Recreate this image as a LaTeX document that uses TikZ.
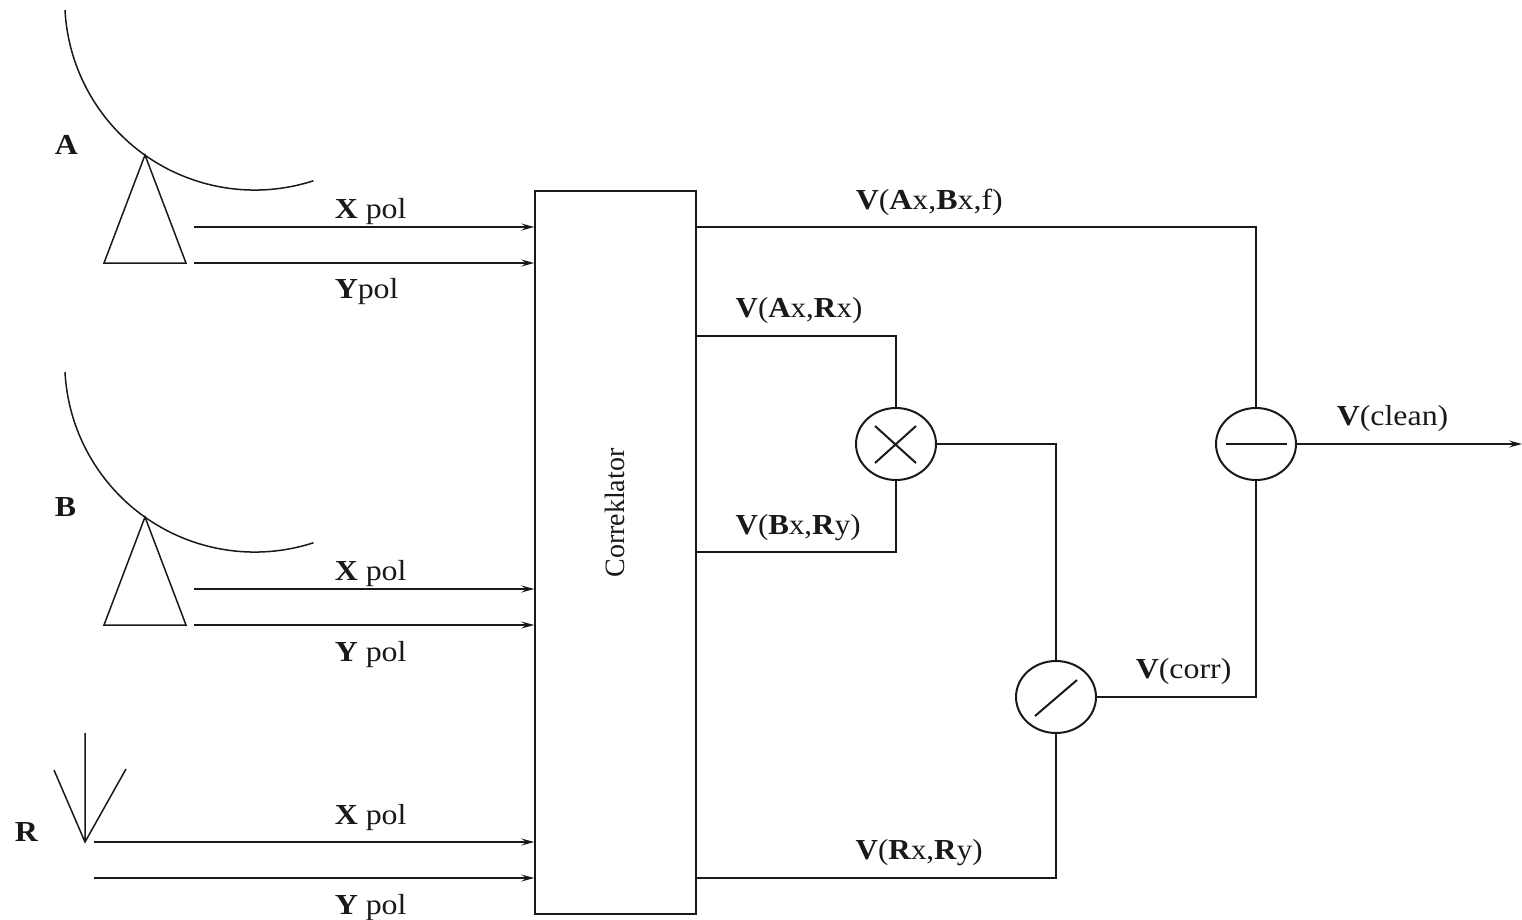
\documentclass[tikz,border=0pt]{standalone}
\usepackage{fontspec}
\setmainfont[FakeStretch=1.1]{Liberation Serif}
\newfontfamily\plainf{Liberation Serif}
\usetikzlibrary{arrows.meta,shapes.geometric}
\tikzset{
  every picture/.style={line width=1.5pt},
  wire/.style={draw=black!90},
  opmark/.style={draw=black!90,line width=2pt},
  sig/.style={wire,-{Stealth[length=13pt,width=7pt,inset=5pt]}},
  opnode/.style={ellipse,draw=black!90,line width=2pt,minimum width=80pt,minimum height=72pt,inner sep=0pt},
  lab/.style={anchor=base west,inner sep=0pt,font=\fontsize{29}{31}\selectfont,text=black!90},
  box/.style={rectangle,draw=black!90,minimum width=161pt,minimum height=723pt,inner sep=0pt}
}
\begin{document}
\begin{tikzpicture}[x=1pt,y=-1pt]
\useasboundingbox (0,0) rectangle (1522,919);
% correlator
\node[box] (corr) at (615.5,552.5) {};
\node[rotate=90,inner sep=0pt,font=\plainf\fontsize{28}{30}\selectfont,text=black!90] (corrlab) at (615,513) {Correklator};
% operators
\node[opnode] (mul) at (896,444) {};
\node[opnode] (sub) at (1256,444) {};
\node[opnode] (dv) at (1056,697) {};
\draw[opmark] (875,426) -- (916,463) (916,426) -- (875,463);
\draw[opmark] (1226,444) -- (1287,444);
\draw[opmark] (1035,716) -- (1077,680);
% antenna A
\draw[wire] (65,10) arc[start angle=177,end angle=72,radius=190];
\draw[wire] (145,155) -- (104,263) -- (186,263) -- cycle;
% antenna B
\draw[wire] (65,372) arc[start angle=177,end angle=72,radius=190];
\draw[wire] (145,517) -- (104,625) -- (186,625) -- cycle;
% antenna R
\draw[wire] (85,733) -- (85,842) (54,770) -- (85,842) -- (126,769);
% input feeds
\coordinate (ax) at (194,227); \coordinate (ay) at (194,263);
\coordinate (bx) at (194,589); \coordinate (by) at (194,625);
\coordinate (rx) at (94,842);  \coordinate (ry) at (94,878);
\foreach \c in {ax,ay,bx,by,rx,ry} \draw[sig] (\c) -- (\c -| corr.west);
% outputs
\coordinate (oab) at (corr.east |- ax);
\coordinate (oar) at (696,336);
\coordinate (obr) at (696,552);
\coordinate (orr) at (corr.east |- ry);
\coordinate (out) at (1522,444);
\draw[wire] (oab) -| (sub.north);
\draw[wire] (oar) -| (mul.north);
\draw[wire] (obr) -| (mul.south);
\draw[wire] (mul.east) -| (dv.north);
\draw[wire] (orr) -| (dv.south);
\draw[wire] (dv.east) -| (sub.south);
\draw[sig] (sub.east) -- (out);
% labels
\node[lab] (la) at (54,154) {\textbf{A}};
\node[lab] (lb) at (54,516) {\textbf{B}};
\node[lab] (lr) at (14,841) {\textbf{R}};
\node[lab] (l1) at (334,218) {\textbf{X} pol};
\node[lab] (l2) at (334,298) {\textbf{Y}pol};
\node[lab] (l3) at (334,580) {\textbf{X} pol};
\node[lab] (l4) at (334,661) {\textbf{Y} pol};
\node[lab] (l5) at (334,824) {\textbf{X} pol};
\node[lab] (l6) at (334,914) {\textbf{Y} pol};
\node[lab] (l7) at (855,209) {\textbf{V}(\textbf{A}x,\textbf{B}x,f)};
\node[lab,xscale=0.97] (l8) at (735,317) {\textbf{V}(\textbf{A}x,\textbf{R}x)};
\node[lab,xscale=0.97] (l9) at (735,534) {\textbf{V}(\textbf{B}x,\textbf{R}y)};
\node[lab,xscale=0.97] (l10) at (855,859) {\textbf{V}(\textbf{R}x,\textbf{R}y)};
\node[lab] (l11) at (1336,425) {\textbf{V}(clean)};
\node[lab] (l12) at (1135,678) {\textbf{V}(corr)};
\end{tikzpicture}
\end{document}
